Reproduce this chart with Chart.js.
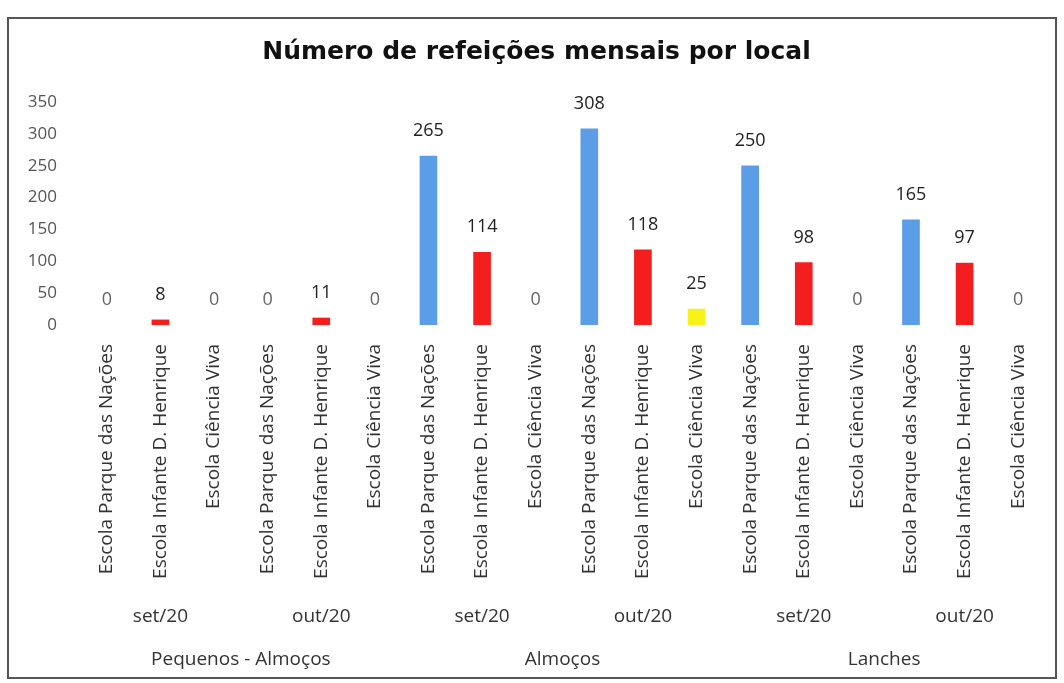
<!DOCTYPE html>
<html>
<head>
<meta charset="utf-8">
<script src="https://cdn.jsdelivr.net/npm/chart.js@4"></script>
<style>
  html, body { margin: 0; padding: 0; background: #fff; }
  #frame { position: absolute; left: 7px; top: 17px; width: 1050px; height: 662px; border: 2px solid #555; box-sizing: border-box; background: #fff; }
  canvas { display: block; }
</style>
</head>
<body>
<div id="frame"><canvas id="c" width="1046" height="658"></canvas></div>
<script>
const schools = [
  "Escola Parque das Nações", "Escola Infante D. Henrique", "Escola Ciência Viva",
  "Escola Parque das Nações", "Escola Infante D. Henrique", "Escola Ciência Viva",
  "Escola Parque das Nações", "Escola Infante D. Henrique", "Escola Ciência Viva",
  "Escola Parque das Nações", "Escola Infante D. Henrique", "Escola Ciência Viva",
  "Escola Parque das Nações", "Escola Infante D. Henrique", "Escola Ciência Viva",
  "Escola Parque das Nações", "Escola Infante D. Henrique", "Escola Ciência Viva"
];
const months = ["set/20", "out/20", "set/20", "out/20", "set/20", "out/20"];
const groups = ["Pequenos - Almoços", "Almoços", "Lanches"];
const values = [0, 8, 0, 0, 11, 0, 265, 114, 0, 308, 118, 25, 250, 98, 0, 165, 97, 0];
const yTicks = [0, 50, 100, 150, 200, 250, 300, 350];

const schoolColors = {
  "Escola Parque das Nações": "#5B9DE6",
  "Escola Infante D. Henrique": "#F41E1E",
  "Escola Ciência Viva": "#F7F21A"
};
const barColors = schools.map((s, i) => values[i] === 0 ? 'rgba(0,0,0,0)' : schoolColors[s]);

const valueLabels = {
  id: 'valueLabels',
  afterDatasetsDraw(chart) {
    const ctx = chart.ctx;
    const meta = chart.getDatasetMeta(0);
    ctx.save();
    ctx.font = '18px "Open Sans", sans-serif';
    ctx.textAlign = 'center';
    ctx.textBaseline = 'middle';
    meta.data.forEach((bar, i) => {
      const v = values[i];
      ctx.fillStyle = v === 0 ? '#666' : '#222';
      ctx.fillText(String(v), bar.x, bar.y - 25);
    });
    ctx.restore();
  }
};

const labelFont = { family: '"Open Sans", sans-serif', size: 19 };
const noGrid = { display: false, drawTicks: false };

new Chart(document.getElementById('c'), {
  type: 'bar',
  data: {
    labels: schools,
    datasets: [{
      data: values,
      backgroundColor: barColors,
      borderWidth: 0,
      barThickness: 17
    }]
  },
  options: {
    responsive: false,
    animation: false,
    layout: { padding: { left: 19, right: 10, top: 4, bottom: 2 } },
    plugins: {
      legend: { display: false },
      tooltip: { enabled: false },
      title: {
        display: true,
        text: 'Número de refeições mensais por local',
        color: '#111',
        font: { family: '"DejaVu Sans", sans-serif', size: 25, weight: 'bold' },
        padding: { top: 14, bottom: 35 }
      }
    },
    scales: {
      x: {
        type: 'category',
        position: 'bottom',
        offset: true,
        grid: noGrid,
        border: { display: false },
        afterFit(axis) { axis.height = 270; axis.paddingLeft = 0; axis.paddingRight = 0; },
        ticks: {
          autoSkip: false,
          maxRotation: 90,
          minRotation: 90,
          padding: 19,
          color: '#333',
          font: labelFont
        }
      },
      x2: {
        type: 'category',
        position: 'bottom',
        labels: months,
        offset: true,
        grid: noGrid,
        border: { display: false },
        afterFit(axis) { axis.height = 40; axis.paddingLeft = 0; axis.paddingRight = 0; },
        ticks: {
          autoSkip: false,
          maxRotation: 0,
          padding: 10,
          color: '#333',
          font: labelFont
        }
      },
      x3: {
        type: 'category',
        position: 'bottom',
        labels: groups,
        offset: true,
        grid: noGrid,
        border: { display: false },
        afterFit(axis) { axis.height = 40; axis.paddingLeft = 0; axis.paddingRight = 0; },
        ticks: {
          autoSkip: false,
          maxRotation: 0,
          padding: 13,
          color: '#333',
          font: labelFont
        }
      },
      y: {
        min: 0,
        max: 350,
        afterBuildTicks(axis) { axis.ticks = yTicks.map(v => ({ value: v })); },
        afterFit(axis) { axis.width = 52; },
        grid: noGrid,
        border: { display: false },
        ticks: {
          padding: 23,
          color: '#555',
          font: { family: '"Open Sans", sans-serif', size: 17 }
        }
      }
    }
  },
  plugins: [valueLabels]
});
</script>
</body>
</html>
